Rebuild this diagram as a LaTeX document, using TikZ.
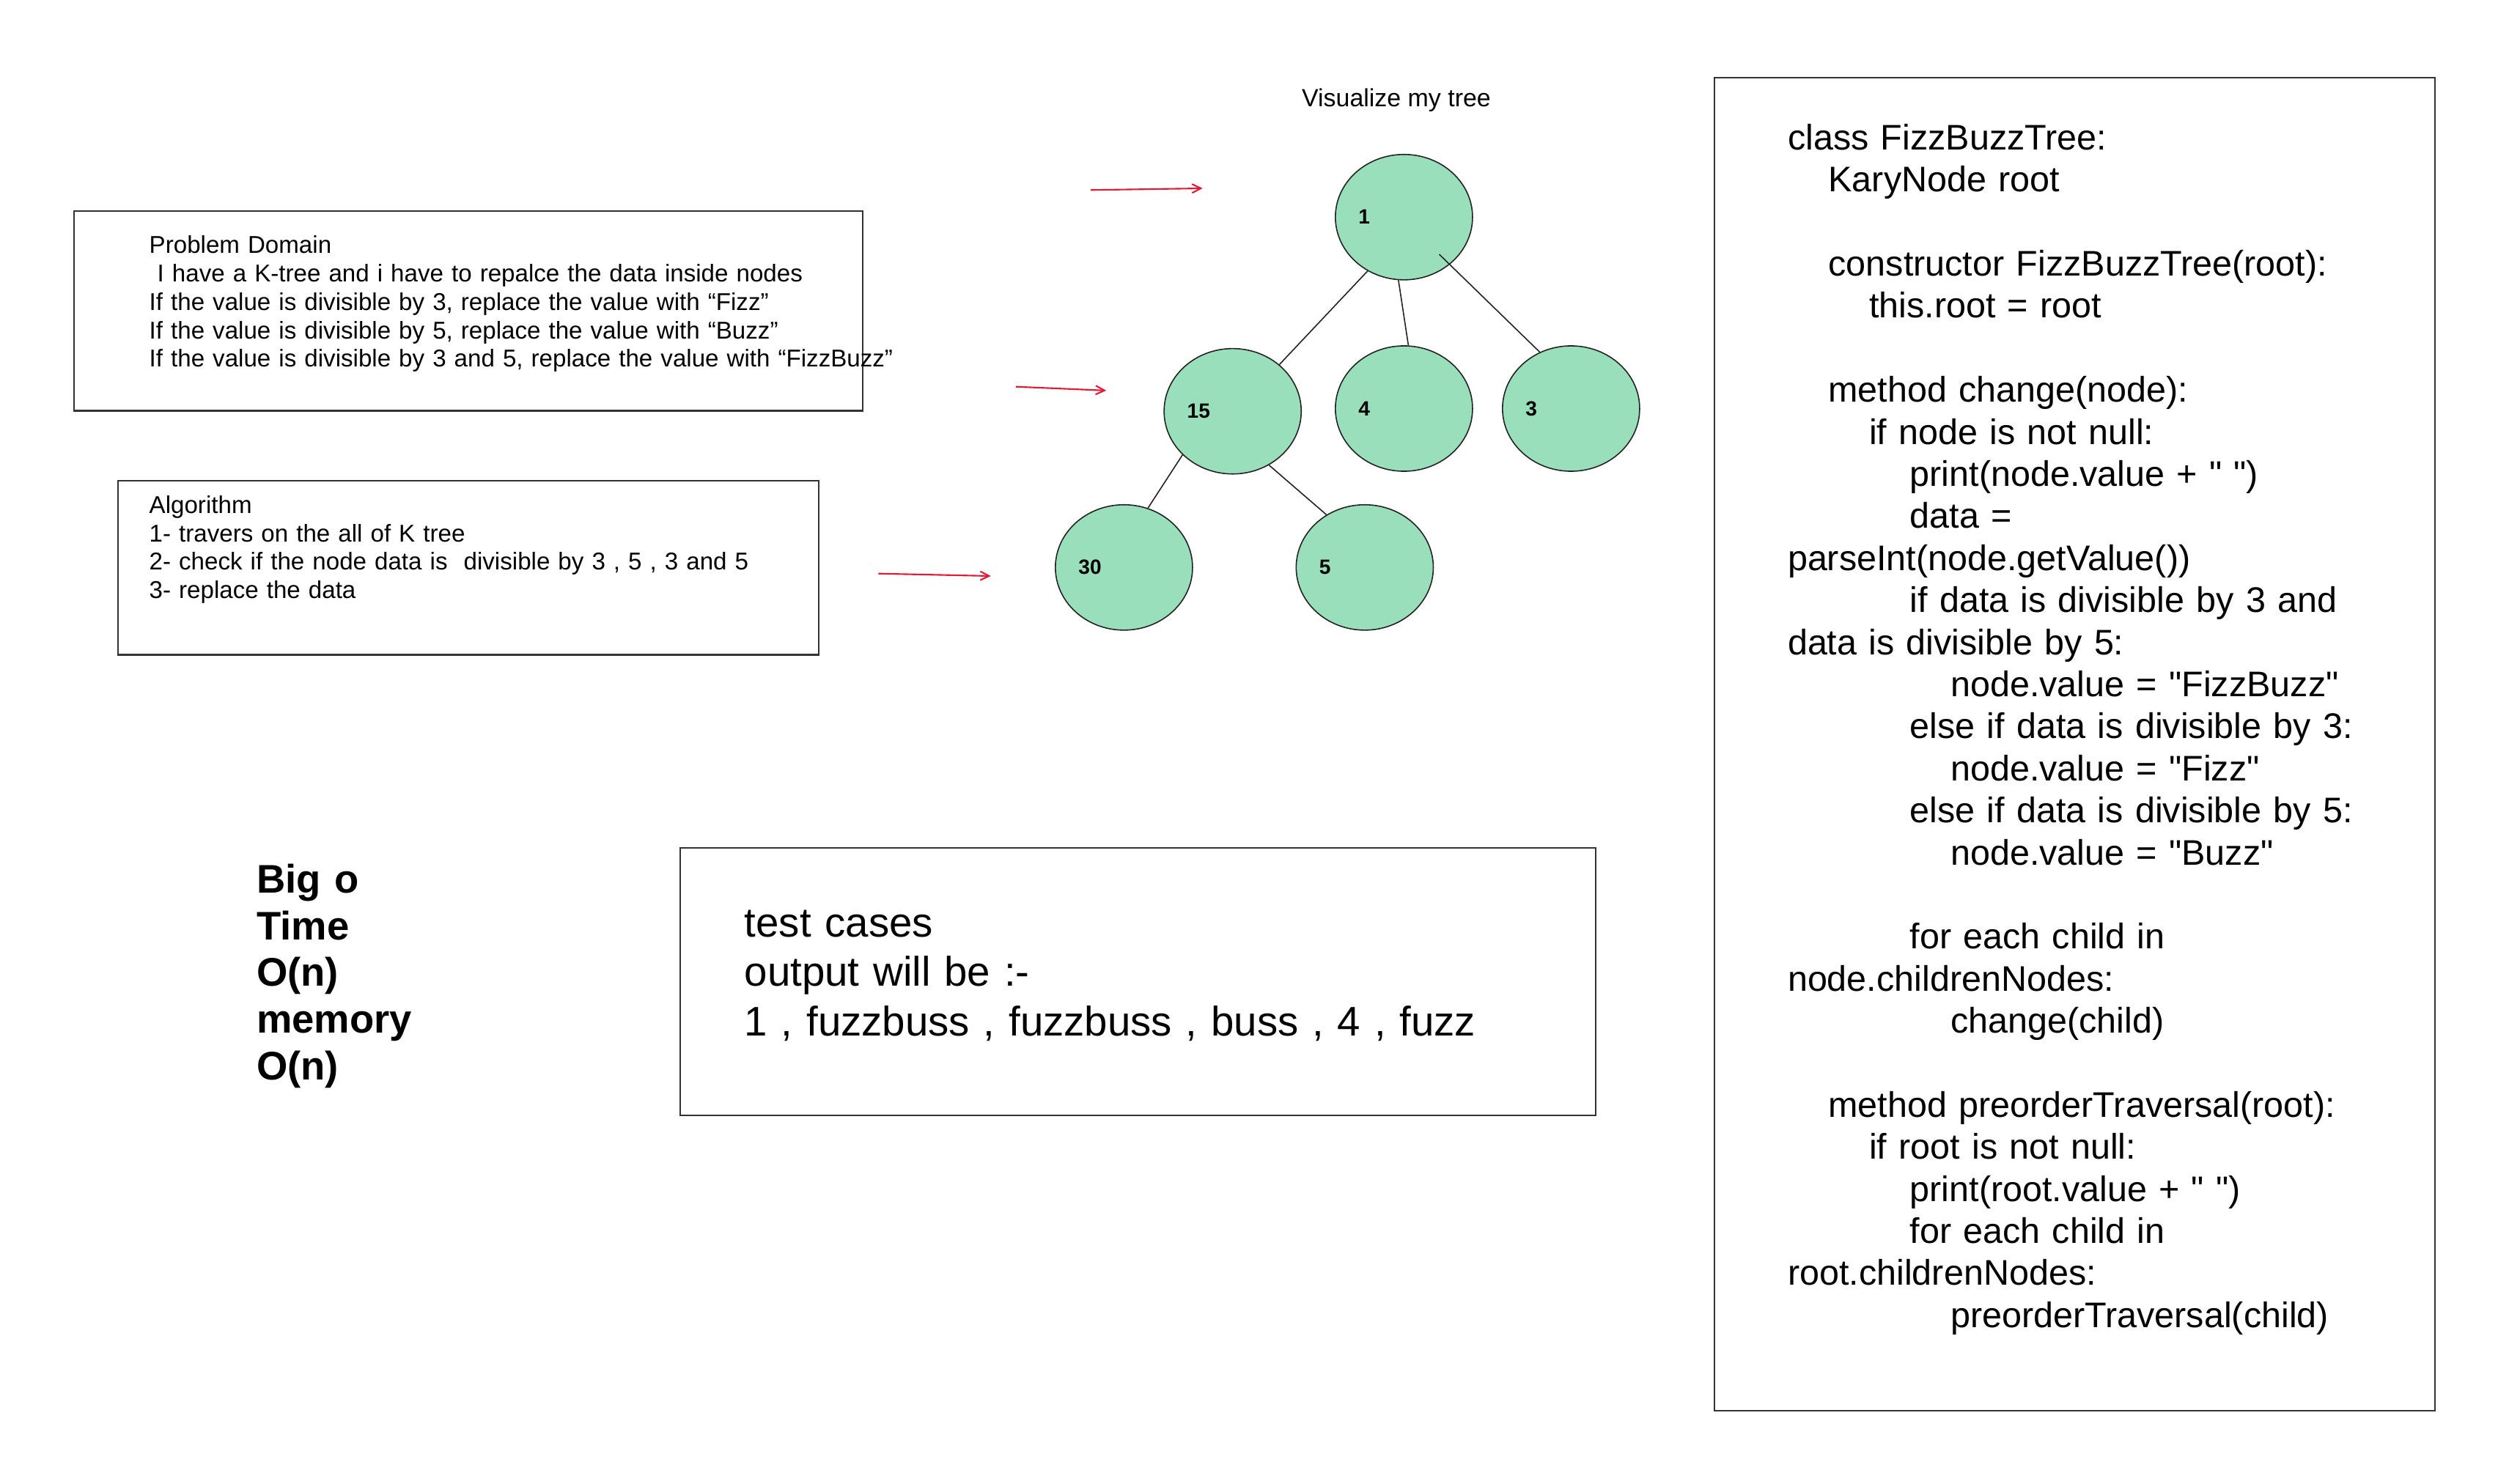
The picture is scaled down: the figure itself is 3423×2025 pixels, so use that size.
\documentclass[tikz,border=0pt]{standalone}
\usepackage{fontspec}
\setmainfont{Liberation Sans}
\newfontfamily\codefont{Liberation Sans}
\usetikzlibrary{shapes.geometric,arrows.meta}
\definecolor{nodegreen}{RGB}{154,223,187}
\definecolor{arrowred}{RGB}{228,26,52}
\definecolor{linegray}{RGB}{34,34,34}
\definecolor{boxgray}{RGB}{51,51,51}
\newlength{\codeind}
\setlength{\codeind}{0.555cm}
\begin{document}
\begin{tikzpicture}[x=0.01cm,y=-0.01cm,
    treenode/.style={ellipse,draw=linegray,line width=0.45pt,fill=nodegreen,minimum width=1.87cm,minimum height=1.71cm,inner sep=0pt,text width=1.24cm,align=left,font=\bfseries\fontsize{8}{9.6}\selectfont},
    treeedge/.style={draw=linegray,line width=0.45pt},
    textbox/.style={draw=boxgray,line width=0.6pt},
    pointer/.style={draw=arrowred,line width=0.6pt,-{Straight Barb[length=0.12cm,width=0.12cm]}},
    blocktext/.style={anchor=base west,inner sep=0pt,text width=11cm,align=left}]
    \fill[white] (0,0) rectangle (3423,2025); %fond
    \node[anchor=base,inner sep=0pt,font=\fontsize{9.65}{11}\selectfont] (title) at (1905,145.4) {Visualize my tree};
    \draw[textbox] (101.2,287.7) rectangle (1177.4,560.5); %Problem Domain
    \node[blocktext,font=\fontsize{9.42}{11}\selectfont] (domain) at (203,346) {Problem Domain\\
        ~I have a K-tree and i have to repalce the data inside nodes\\
        If the value is divisible by 3, replace the value with “Fizz”\\
        If the value is divisible by 5, replace the value with “Buzz”\\
        If the value is divisible by 3 and 5, replace the value with “FizzBuzz”};
    \draw[textbox] (160.9,655.9) rectangle (1117,893.5); %Algorithm
    \node[blocktext,font=\fontsize{9.42}{10.95}\selectfont] (algo) at (203,700.9) {Algorithm\\
        1- travers on the all of K tree\\
        2- check if the node data is\ \ divisible by 3 , 5 , 3 and 5\\
        3- replace the data};
    \node[blocktext,text width=4cm,font=\bfseries\fontsize{15.48}{18.15}\selectfont] (bigo) at (349.5,1218.3) {Big o\\Time\\O(n)\\memory\\O(n)};
    \draw[textbox] (927.9,1157) rectangle (2177.3,1522.3); %test cases
    \node[blocktext,font=\fontsize{16.05}{19.2}\selectfont] (tests) at (1015,1278.3) {test cases\\
        output will be :-\\
        1 , fuzzbuss , fuzzbuss , buss , 4 , fuzz};
    \draw[textbox] (2339.4,105.6) rectangle (3322,1925); %pseudo code
    \node[blocktext,text width=8.6cm,font=\codefont\fontsize{13.8}{16.32}\selectfont] (code) at (2438.3,204.4) {class FizzBuzzTree:\\
        \hspace*{1\codeind}KaryNode root\\
        \mbox{}\\
        \hspace*{1\codeind}constructor FizzBuzzTree(root):\\
        \hspace*{2\codeind}this.root = root\\
        \mbox{}\\
        \hspace*{1\codeind}method change(node):\\
        \hspace*{2\codeind}if node is not null:\\
        \hspace*{3\codeind}print(node.value + " ")\\
        \hspace*{3\codeind}data =\\
        parseInt(node.getValue())\\
        \hspace*{3\codeind}if data is divisible by 3 and\\
        data is divisible by 5:\\
        \hspace*{4\codeind}node.value = "FizzBuzz"\\
        \hspace*{3\codeind}else if data is divisible by 3:\\
        \hspace*{4\codeind}node.value = "Fizz"\\
        \hspace*{3\codeind}else if data is divisible by 5:\\
        \hspace*{4\codeind}node.value = "Buzz"\\
        \mbox{}\\
        \hspace*{3\codeind}for each child in\\
        node.childrenNodes:\\
        \hspace*{4\codeind}change(child)\\
        \mbox{}\\
        \hspace*{1\codeind}method preorderTraversal(root):\\
        \hspace*{2\codeind}if root is not null:\\
        \hspace*{3\codeind}print(root.value + " ")\\
        \hspace*{3\codeind}for each child in\\
        root.childrenNodes:\\
        \hspace*{4\codeind}preorderTraversal(child)};
    % the tree
    \node[treenode] (n1) at (1915.4,296.3) {1};
    \node[treenode] (n15) at (1681.7,561.2) {15};
    \node[treenode] (n4) at (1915.4,557.5) {4};
    \node[treenode] (n3) at (2143.4,557.5) {3};
    \node[treenode] (n30) at (1533.4,774.3) {30};
    \node[treenode] (n5) at (1861.9,774.3) {5};
    \draw[treeedge] (n1.236.9) -- (n15.45.4);
    \draw[treeedge] (n1.265) -- (n4.86.6);
    \draw[treeedge,shorten <=-0.2cm] (n1.314.3) -- (n3.119.2);
    \draw[treeedge] (n15.221.5) -- (n30.68.7);
    \draw[treeedge] (n15.304.7) -- (n5.126.4);
    % red pointers
    \coordinate (p1s) at (1488,259.3);
    \coordinate (p1e) at (1640.7,257);
    \coordinate (p2s) at (1386.1,527.7);
    \coordinate (p2e) at (1509.2,532.9);
    \coordinate (p3s) at (1198.3,782.7);
    \coordinate (p3e) at (1351.7,786);
    \draw[pointer] (p1s) -- (p1e);
    \draw[pointer] (p2s) -- (p2e);
    \draw[pointer] (p3s) -- (p3e);
\end{tikzpicture}
\end{document}
